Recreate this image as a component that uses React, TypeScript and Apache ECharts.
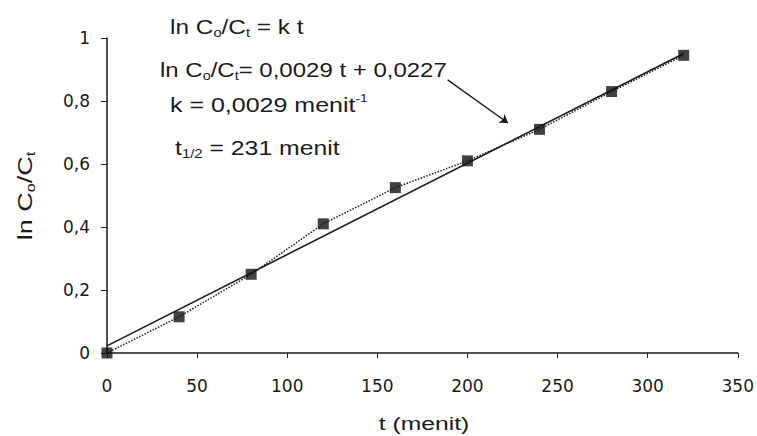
import React, { useEffect, useRef } from "react";
import * as echarts from "echarts";

// Data
const timeMinutes = [0, 40, 80, 120, 160, 200, 240, 280, 320];
const lnRatio = [0, 0.115, 0.25, 0.41, 0.525, 0.61, 0.71, 0.83, 0.945];
const fitTime = [0, 320];
const fitValue = [0.0227, 0.9507];
const xRange = { min: 0, max: 350, interval: 50 };
const yRange = { min: 0, max: 1, interval: 0.2 };
const xTitle = "t (menit)";
const eqLines = [
  "{m|ln C}{s|o}{m|/C}{s|t}{m| = k t}",
  "{m|ln C}{s|o}{m|/C}{s|t}{m|= 0,0029 t + 0,0227}",
  "{m|k = 0,0029 menit}{p|-1}",
  "{m|t}{s|1/2}{m| = 231 menit}",
];
const yTitle = "{m|ln C}{s|o}{m|/C}{s|t}";

const FONT = "'Liberation Sans', Arial, sans-serif";
const TICK_FONT = "'DejaVu Sans', sans-serif";
const INK = "#1a1a1a";

const richStyles = {
  m: { fontSize: 20, lineHeight: 24, fontFamily: FONT, fill: INK, color: INK },
  s: { fontSize: 12, lineHeight: 12, verticalAlign: "bottom", fontFamily: FONT, fill: INK, color: INK },
  p: { fontSize: 11, lineHeight: 12, verticalAlign: "top", fontFamily: FONT, fill: INK, color: INK },
};

export default function App() {
  const ref = useRef<HTMLDivElement>(null);
  useEffect(() => {
    document.body.style.margin = "0";
    if (!ref.current) return;
    const chart = echarts.init(ref.current, null, { renderer: "svg" });
    const eqPos = [
      [170, 27],
      [160, 70],
      [170, 105],
      [175, 148],
    ];
    const eqScale = [1.22, 1.2, 1.25, 1.24];
    const fmt = (v: number) =>
      v === 0 || v === 1 ? String(v) : v.toFixed(1).replace(".", ",");
    chart.setOption({
      animation: false,
      backgroundColor: "#ffffff",
      grid: { left: 107, top: 38, right: 19, bottom: 83 },
      xAxis: {
        type: "value",
        min: xRange.min,
        max: xRange.max,
        interval: xRange.interval,
        axisLine: { show: true, lineStyle: { color: INK, width: 1.5 } },
        axisTick: { show: true, inside: false, length: 5, lineStyle: { color: INK } },
        splitLine: { show: false },
        axisLabel: { margin: 24, fontSize: 17, fontFamily: TICK_FONT, color: INK },
      },
      yAxis: {
        type: "value",
        min: yRange.min,
        max: yRange.max,
        interval: yRange.interval,
        axisLine: { show: true, lineStyle: { color: INK, width: 1.5 } },
        axisTick: { show: true, inside: false, length: 6, lineStyle: { color: INK } },
        splitLine: { show: false },
        axisLabel: { margin: 17, fontSize: 17, fontFamily: TICK_FONT, color: INK, formatter: fmt },
      },
      series: [
        {
          type: "line",
          data: fitTime.map((t, i) => [t, fitValue[i]]),
          symbol: "none",
          lineStyle: { color: INK, width: 1.6, type: "solid" },
          z: 2,
          markLine: {
            silent: true,
            symbol: ["none", "arrow"],
            symbolSize: 8,
            label: { show: false },
            lineStyle: { color: INK, width: 1.4, type: "solid" },
            data: [[{ coord: [189, 0.867] }, { coord: [222.5, 0.73] }]],
          },
        },
        {
          type: "line",
          data: timeMinutes.map((t, i) => [t, lnRatio[i]]),
          symbol: "none",
          lineStyle: { color: INK, width: 1.5, type: "dotted" },
          z: 3,
        },
        {
          type: "scatter",
          data: timeMinutes.map((t, i) => [t, lnRatio[i]]),
          symbol: "rect",
          symbolSize: 11,
          itemStyle: { color: "#111" },
          z: 4,
        },
      ],
      graphic: [
        ...eqLines.map((txt, i) => ({
          type: "text",
          x: eqPos[i][0],
          y: eqPos[i][1],
          scaleX: eqScale[i],
          style: {
            text: txt,
            rich: richStyles,
            fill: INK,
            font: `20px ${FONT}`,
            align: "left",
            verticalAlign: "middle",
          },
        })),
        {
          type: "text",
          x: 25,
          y: 196,
          rotation: Math.PI / 2,
          scaleX: 1.35,
          style: {
            text: yTitle,
            rich: richStyles,
            fill: INK,
            font: `20px ${FONT}`,
            align: "center",
            verticalAlign: "middle",
          },
        },
        {
          type: "text",
          x: 424,
          y: 424,
          scaleX: 1.3,
          style: {
            text: xTitle,
            fill: INK,
            font: `19px ${FONT}`,
            align: "center",
            verticalAlign: "middle",
          },
        },
      ],
    });
    return () => chart.dispose();
  }, []);
  return <div ref={ref} style={{ width: 757, height: 436 }} />;
}
